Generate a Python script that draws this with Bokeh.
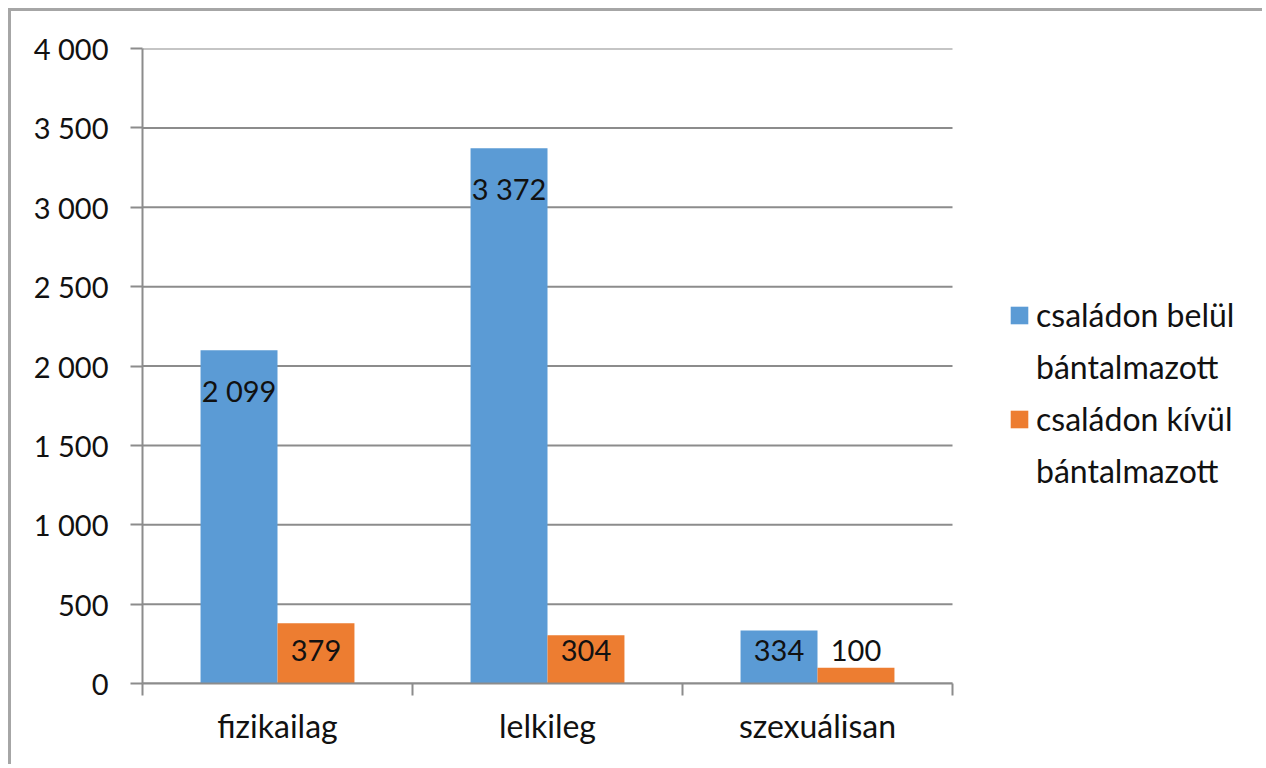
from bokeh.plotting import figure
from bokeh.models import FixedTicker, Legend, LegendItem, ColumnDataSource, Range1d
from bokeh.core.properties import value
from bokeh.embed import file_html
from bokeh.resources import INLINE

categories = ["fizikailag", "lelkileg", "szexuálisan"]
series_lines = [["családon belül", "bántalmazott"], ["családon kívül", "bántalmazott"]]
inside_values = [2099, 3372, 334]
outside_values = [379, 304, 100]
y_ticks = [0, 500, 1000, 1500, 2000, 2500, 3000, 3500, 4000]
y_tick_labels = ["0", "500", "1 000", "1 500", "2 000", "2 500", "3 000", "3 500", "4 000"]

BLUE = "#5B9BD5"
ORANGE = "#ED7D31"
GRID = "#8c8c8c"
TEXT = "#111111"
FONT = "Lato"
FS = "29px"        # numbers
FS_TXT = "32px"    # words (category labels, legend)
BAR_W = 0.285
OFF = 0.1425

W, H = 1254, 756
LEFT, TOP, BOTTOM = 131, 37, 84
PLOT_AREA_W = 810          # width of the category area in px
FRAME_W = W - LEFT         # frame runs to the right edge (legend lives inside it)

def fmt(v):
    return f"{v:,}".replace(",", " ")

n = len(categories)
centers = [i + 0.5 for i in range(n)]

p = figure(width=W, height=H, output_backend="svg", toolbar_location=None,
           x_range=Range1d(0, n * FRAME_W / PLOT_AREA_W), y_range=Range1d(0, 4000),
           min_border_left=LEFT, min_border_top=TOP, min_border_bottom=BOTTOM, min_border_right=0)
p.styles = {"border-left": "3px solid #a6a6a6", "border-top": "3px solid #a6a6a6",
            "margin-left": "8px", "margin-top": "8px"}
p.outline_line_color = None
p.background_fill_color = "white"

# horizontal gridlines limited to the category area
p.segment(x0=[0] * len(y_ticks), x1=[n] * len(y_ticks), y0=y_ticks, y1=y_ticks,
          line_color=GRID, line_width=2)

def label_y(v):
    return max(v - 252, 208)

src_in = ColumnDataSource(dict(x=[c - OFF for c in centers], top=inside_values,
                               ly=[label_y(v) for v in inside_values], txt=[fmt(v) for v in inside_values]))
src_out = ColumnDataSource(dict(x=[c + OFF for c in centers], top=outside_values,
                                ly=[label_y(v) for v in outside_values], txt=[fmt(v) for v in outside_values]))

r_in = p.vbar(x="x", top="top", width=BAR_W, source=src_in, fill_color=BLUE, line_color=None)
r_out = p.vbar(x="x", top="top", width=BAR_W, source=src_out, fill_color=ORANGE, line_color=None)
r_blank = p.vbar(x=[], top=[], width=BAR_W, fill_alpha=0, line_alpha=0)

for src in (src_in, src_out):
    p.text(x="x", y="ly", text="txt", source=src, text_align="center", text_baseline="middle",
           text_font=value(FONT), text_font_size=FS, text_color=TEXT)

# y axis
yax = p.yaxis[0]
yax.ticker = FixedTicker(ticks=y_ticks)
yax.major_label_overrides = {t: l for t, l in zip(y_ticks, y_tick_labels)}
yax.major_label_text_font = FONT
yax.major_label_text_font_size = FS
yax.major_label_text_color = TEXT
yax.major_tick_out = 12
yax.major_tick_in = 0
yax.minor_tick_line_color = None
yax.major_tick_line_color = GRID
yax.major_tick_line_width = 2
yax.axis_line_color = GRID
yax.axis_line_width = 2
yax.major_label_standoff = 22

# x axis
xax = p.xaxis[0]
xax.bounds = (0, n)
xax.ticker = FixedTicker(ticks=centers, minor_ticks=list(range(n + 1)))
xax.major_label_overrides = {c: name for c, name in zip(centers, categories)}
xax.major_label_text_font = FONT
xax.major_label_text_font_size = FS_TXT
xax.major_label_text_color = TEXT
xax.major_tick_line_color = None
xax.major_tick_out = 0
xax.major_tick_in = 0
xax.minor_tick_out = 12
xax.minor_tick_in = 0
xax.minor_tick_line_color = GRID
xax.minor_tick_line_width = 2
xax.axis_line_color = GRID
xax.axis_line_width = 2
xax.major_label_standoff = 10

p.xgrid.grid_line_color = None
p.ygrid.grid_line_color = None

items = []
for r, lines in zip((r_in, r_out), series_lines):
    items.append(LegendItem(label=lines[0], renderers=[r]))
    items.append(LegendItem(label=lines[1], renderers=[r_blank]))

legend = Legend(items=items, location=(866, 193))
legend.border_line_color = None
legend.background_fill_alpha = 0
legend.padding = 0
legend.margin = 0
legend.spacing = 13
legend.glyph_width = 22
legend.glyph_height = 22
legend.label_standoff = 6
legend.label_text_font = FONT
legend.label_text_font_size = FS_TXT
legend.label_text_color = TEXT
p.add_layout(legend)

open("out.html", "w").write(file_html(p, INLINE))
